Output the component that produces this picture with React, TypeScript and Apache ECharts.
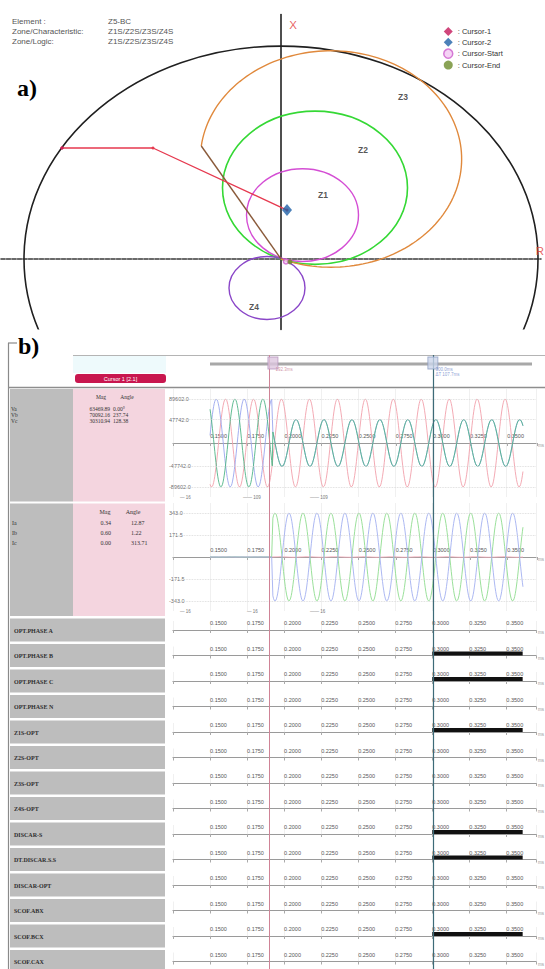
import React, { useEffect, useRef } from 'react';
import * as echarts from 'echarts';

// ================= Panel a) : R-X impedance plane (ohm) =================
const bigCircle = [0, 0, 25.7]; // centre R, centre X, radius
const zoneNames = ['Z1', 'Z2', 'Z3', 'Z4'];
const zoneCentreR = [2.15, 3.4, 5.0, -1.4];
const zoneCentreX = [5.3, 8.6, 12.07, -3.5];
const zoneRadius = [5.6, 9.25, 13.065, 3.8];
const z3BlinderAngleDeg = 120.3;
const zoneLabelR = [4.2, 8.2, 12.2, -2.7];
const zoneLabelX = [7.72, 13.16, 19.55, -5.8];
const locusR = [-21.9, -12.8, 0.6];
const locusX = [13.4, 13.4, 5.9];
const cursorNames = ['Cursor-1', 'Cursor-2', 'Cursor-Start', 'Cursor-End'];
const cursorPointR = [-21.9, 0.6, 0.5, 0.9];
const cursorPointX = [13.4, 5.9, -0.3, -0.35];
const elementInfoKeys = ['Element :', 'Zone/Characteristic:', 'Zone/Logic:'];
const elementInfoValues = ['Z5-BC', 'Z1S/Z2S/Z3S/Z4S', 'Z1S/Z2S/Z3S/Z4S'];

// ================= Panel b) : oscillography =================
const cursorTimes = [0.1923, 0.3];
const faultTime = 0.1923;
const freqHz = 53;
const sampleStart = 0.15;
const sampleEnd = 0.361;
const sampleStep = 0.0004;

const voltNames = ['Va', 'Vb', 'Vc'];
const voltMag = [63469.89, 70092.16, 30310.94];
const voltAng = [0.0, 237.74, 128.38];
const voltPrePeak = [89602, 89602, 89602];
const voltPreAngle = [-23, -143, 97];
const voltPostPeak = [89602, 47742, 47742];
const voltPostAngle = [-23, 150, 150];
const voltAxisLabels = [89602.0, 47742.0, -47742.0, -89602.0];

const currNames = ['Ia', 'Ib', 'Ic'];
const currMag = [0.34, 0.6, 0.0];
const currAng = [12.87, 1.22, 313.71];
const currPrePeak = [0.48, 0.85, 0.0];
const currPreAngle = [-10, -140, 100];
const currPostPeak = [2, 343, 343];
const currPostAngle = [0, 60, 240];
const currAxisLabels = [343.0, 171.5, -171.5, -343.0];

const digitalNames = ['OPT.PHASE A', 'OPT.PHASE B', 'OPT.PHASE C', 'OPT.PHASE N', 'Z1S-OPT', 'Z2S-OPT', 'Z3S-OPT', 'Z4S-OPT', 'DISCAR-S', 'DT.DISCAR.S.S', 'DISCAR-OPT', 'SCOF.ABX', 'SCOF.BCX', 'SCOF.CAX'];
const digitalOnFrom: (number | null)[] = [null, 0.3, 0.3, null, 0.3, null, null, null, 0.3, 0.3, null, null, 0.3, null];
const digitalOnTo = 0.361;

// ---------- layout ----------
const RX_LEFT = 1, RX_W = 540, RX_TOP = 14.6, RX_H = 314.8;
const T_MIN = 0.125, T_MAX = 0.37, PX_PER_S = 1485;
const PLOT_LEFT = 173, PLOT_W = (T_MAX - T_MIN) * PX_PER_S;
const ROW0 = 630, ROW_PITCH = 25.5;

const SANS = 'Liberation Sans';
const SERIF = 'Liberation Serif';

function wave(prePeak: number, preAng: number, postPeak: number, postAng: number) {
  const pts: number[][] = [];
  const n = Math.round((sampleEnd - sampleStart) / sampleStep);
  for (let i = 0; i <= n; i++) {
    const t = sampleStart + i * sampleStep;
    const post = t >= faultTime;
    const A = post ? postPeak : prePeak;
    const ph = ((post ? postAng : preAng) * Math.PI) / 180;
    pts.push([t, A * Math.sin(2 * Math.PI * freqHz * (t - faultTime) + ph)]);
  }
  return pts;
}

function txt(x: number, y: number, text: string, size: number, fill: string, extra: any = {}) {
  return {
    type: 'text', x, y, silent: true, z: 10,
    style: { text, fontSize: size, fill, fontFamily: extra.font || SANS, fontWeight: extra.weight || 'normal', align: extra.align || 'left', verticalAlign: 'middle' },
  };
}
function rect(x: number, y: number, w: number, h: number, fill: string, r = 0) {
  return { type: 'rect', silent: true, z: 1, shape: { x, y, width: w, height: h, r }, style: { fill } };
}
function hline(x1: number, y1: number, x2: number, y2: number, stroke: string, lw = 1) {
  return { type: 'line', silent: true, z: 2, shape: { x1, y1, x2, y2 }, style: { stroke, lineWidth: lw } };
}

const timeLabel = {
  show: true, inside: true, align: 'left', margin: 4, fontSize: 5.5, color: '#555', fontFamily: SANS,
  formatter: (v: number) => (v < 0.149 || v > 0.351 ? '' : v.toFixed(4)),
};

// time axis whose line sits at the bottom of its grid, labels just above it
function labelledTimeAxis(gi: number, withLine: boolean, withSplit: boolean) {
  return {
    type: 'value', gridIndex: gi, min: T_MIN, max: T_MAX, interval: 0.025,
    axisLine: { show: withLine, onZero: false, lineStyle: { color: '#9a9a9a', width: 1.2 } },
    axisTick: { show: true, length: 3, lineStyle: { color: '#aaa' } },
    axisLabel: timeLabel,
    splitLine: { show: withSplit, lineStyle: { color: '#ececec', width: 0.8 } },
    name: withLine ? 'ms' : '', nameLocation: 'end', nameGap: 2, nameTextStyle: { fontSize: 4.5, color: '#999', verticalAlign: 'top' },
  };
}

function buildOption() {
  const grid: any[] = [];
  const xAxis: any[] = [];
  const yAxis: any[] = [];
  const series: any[] = [];
  const hiddenY = (gi: number, min: number, max: number) => ({
    type: 'value', gridIndex: gi, min, max, axisLine: { show: false }, axisTick: { show: false }, axisLabel: { show: false }, splitLine: { show: false },
  });

  // ---------- grid 0 : R-X plane ----------
  grid.push({ left: RX_LEFT, top: RX_TOP, width: RX_W, height: RX_H });
  xAxis.push({
    type: 'value', gridIndex: 0, min: -28, max: 26,
    axisLine: { onZero: true, lineStyle: { color: '#3a3a3a', width: 1.6, type: [4, 1.5] } },
    axisTick: { show: false }, axisLabel: { show: false }, splitLine: { show: false },
  });
  yAxis.push({
    type: 'value', gridIndex: 0, min: -8.5, max: 29.5,
    axisLine: { onZero: true, lineStyle: { color: '#151515', width: 1.5 } },
    axisTick: { show: false }, axisLabel: { show: false }, splitLine: { show: false },
  });

  const fullCircles = [
    { c: bigCircle, color: '#202020', lw: 1.6 },
    { c: [zoneCentreR[0], zoneCentreX[0], zoneRadius[0]], color: '#d44ed4', lw: 1.4 },
    { c: [zoneCentreR[1], zoneCentreX[1], zoneRadius[1]], color: '#35d835', lw: 1.6 },
    { c: [zoneCentreR[3], zoneCentreX[3], zoneRadius[3]], color: '#8a46c8', lw: 1.4 },
  ];
  series.push({
    type: 'custom', name: 'circles', xAxisIndex: 0, yAxisIndex: 0, clip: true, silent: true,
    data: fullCircles.map((d) => d.c),
    renderItem: (params: any, api: any) => {
      const c = api.coord([api.value(0), api.value(1)]);
      const s = api.size([api.value(2), api.value(2)]);
      const cs = params.coordSys;
      const d = fullCircles[params.dataIndex];
      return {
        type: 'ellipse',
        shape: { cx: c[0], cy: c[1], rx: s[0], ry: s[1] },
        style: { fill: 'none', stroke: d.color, lineWidth: d.lw },
        clipPath: { type: 'rect', shape: { x: cs.x, y: cs.y, width: cs.width, height: cs.height } },
      };
    },
  });

  // Z3 : mho circle cut by the blinder line through the origin
  series.push({
    type: 'custom', name: 'Z3', xAxisIndex: 0, yAxisIndex: 0, clip: true, silent: true,
    data: [[zoneCentreR[2], zoneCentreX[2], zoneRadius[2], z3BlinderAngleDeg]],
    renderItem: (params: any, api: any) => {
      const cR = api.value(0), cX = api.value(1), r = api.value(2);
      const th = (api.value(3) * Math.PI) / 180;
      const ux = Math.cos(th), uy = Math.sin(th);
      const s = 2 * (cR * ux + cX * uy);
      const pR = s * ux, pX = s * uy;
      const a0 = Math.atan2(pX - cX, pR - cR);
      let a1 = Math.atan2(-cX, -cR);
      while (a1 > a0) a1 -= 2 * Math.PI;
      const pts: number[][] = [];
      const n = 140;
      for (let i = 0; i <= n; i++) {
        const a = a0 + ((a1 - a0) * i) / n;
        pts.push(api.coord([cR + r * Math.cos(a), cX + r * Math.sin(a)]));
      }
      const o = api.coord([0, 0]);
      const p = api.coord([pR, pX]);
      return {
        type: 'group',
        children: [
          { type: 'polyline', shape: { points: pts }, style: { fill: 'none', stroke: '#e0893c', lineWidth: 1.4 } },
          { type: 'line', shape: { x1: o[0], y1: o[1], x2: p[0], y2: p[1] }, style: { stroke: '#8a5a3a', lineWidth: 1.4 } },
        ],
      };
    },
  });

  // impedance locus
  series.push({
    type: 'line', name: 'locus', xAxisIndex: 0, yAxisIndex: 0, silent: true,
    data: locusR.map((r, i) => [r, locusX[i]]),
    lineStyle: { color: '#e6394f', width: 1.3 }, itemStyle: { color: '#e6394f' },
    symbol: 'circle', symbolSize: 3, showSymbol: true,
  });

  // cursors (legend)
  const cursorSymbols = ['diamond', 'diamond', 'circle', 'circle'];
  const cursorColors = ['#c4185a', '#1f62a8', '#cc5bcc', '#6d8c2c'];
  const cursorSizes = [4, [10, 12], 5, 5];
  const cursorItemStyles = [
    { color: cursorColors[0] },
    { color: cursorColors[1] },
    { color: '#f2c8f2', borderColor: cursorColors[2], borderWidth: 1.5 },
    { color: cursorColors[3] },
  ];
  cursorNames.forEach((nm, i) => {
    series.push({
      type: 'scatter', name: nm, xAxisIndex: 0, yAxisIndex: 0, silent: true,
      symbol: cursorSymbols[i], symbolSize: cursorSizes[i], itemStyle: cursorItemStyles[i],
      data: [[cursorPointR[i], cursorPointX[i]]], z: 4,
    });
  });

  // zone labels, axis letters
  series.push({
    type: 'scatter', name: 'zoneLabels', xAxisIndex: 0, yAxisIndex: 0, symbolSize: 0, silent: true, clip: false,
    data: zoneNames.map((n, i) => ({ value: [zoneLabelR[i], zoneLabelX[i]], name: n })),
    label: { show: true, position: 'inside', formatter: (p: any) => p.name, fontSize: 8.5, fontWeight: 'bold', color: '#2a2a2a', fontFamily: SANS },
  });
  series.push({
    type: 'scatter', name: 'axisLetters', xAxisIndex: 0, yAxisIndex: 0, symbolSize: 0, silent: true, clip: false,
    data: [{ value: [1.2, 28.25], name: 'X' }, { value: [25.9, 1.0], name: 'R' }],
    label: { show: true, position: 'inside', formatter: (p: any) => p.name, fontSize: 11.5, color: '#e23838', fontFamily: SANS },
  });

  // ---------- analog plots : voltages, currents ----------
  const analog = [
    { top: 389, half: 110000, labels: voltAxisLabels, names: voltNames, pre: voltPrePeak, preA: voltPreAngle, post: voltPostPeak, postA: voltPostAngle, colors: ['#f2a0ab', '#4fb487', '#9aa6ee'], order: [0, 2, 1] },
    { top: 503, half: 421, labels: currAxisLabels, names: currNames, pre: currPrePeak, preA: currPreAngle, post: currPostPeak, postA: currPostAngle, colors: ['#f2a7b6', '#8fdc8f', '#a3b0f0'], order: [0, 1, 2] },
  ];
  analog.forEach((a, k) => {
    const gi = grid.length;
    grid.push({ left: PLOT_LEFT, top: a.top, width: PLOT_W, height: 108 });
    xAxis.push({
      type: 'value', gridIndex: gi, min: T_MIN, max: T_MAX, interval: 0.025,
      axisLine: { onZero: true, lineStyle: { color: '#9a9a9a', width: 1.2 } },
      axisTick: { show: false }, axisLabel: { show: false },
      splitLine: { show: true, lineStyle: { color: '#ececec', width: 0.8 } },
      name: 'ms', nameLocation: 'end', nameGap: 2, nameTextStyle: { fontSize: 4.5, color: '#999', verticalAlign: 'top' },
    });
    yAxis.push(hiddenY(gi, -a.half, a.half));
    series.push({
      type: 'scatter', name: 'yl' + k, xAxisIndex: gi, yAxisIndex: gi, symbolSize: 0, silent: true, clip: false,
      data: a.labels.map((v) => [T_MIN, v]),
      label: { show: true, position: 'right', distance: 0, offset: [-4, 0], formatter: (p: any) => p.value[1].toFixed(1), fontSize: 5.5, color: '#444', fontFamily: SANS },
      markLine: { silent: true, symbol: 'none', label: { show: false }, lineStyle: { color: '#d4d4d4', type: 'dotted', width: 0.8 }, data: a.labels.map((v) => ({ yAxis: v })) },
    });
    a.order.forEach((i) => {
      series.push({
        type: 'line', name: a.names[i], xAxisIndex: gi, yAxisIndex: gi, silent: true, showSymbol: false, clip: true,
        data: wave(a.pre[i], a.preA[i], a.post[i], a.postA[i]),
        lineStyle: { color: a.colors[i], width: 0.9 },
      });
    });
    // upper half grid carrying the time labels above the zero line
    const li = grid.length;
    grid.push({ left: PLOT_LEFT, top: a.top, width: PLOT_W, height: 54 });
    xAxis.push(labelledTimeAxis(li, false, false));
    yAxis.push(hiddenY(li, 0, 1));
  });

  // ---------- digital channels ----------
  digitalNames.forEach((nm, i) => {
    const base = ROW0 + ROW_PITCH * i;
    const gi = grid.length;
    grid.push({ left: PLOT_LEFT, top: base - 9, width: PLOT_W, height: 9 });
    xAxis.push(labelledTimeAxis(gi, true, true));
    yAxis.push(hiddenY(gi, 0, 1));
    const on = digitalOnFrom[i];
    series.push({
      type: 'line', name: nm, xAxisIndex: gi, yAxisIndex: gi, silent: true, showSymbol: false,
      data: on === null ? [] : [[on, 0.22], [digitalOnTo, 0.22]],
      lineStyle: { color: '#111', width: 4 },
    });
  });

  // ---------- cursor overlay ----------
  const og = grid.length;
  grid.push({ left: PLOT_LEFT, top: 355, width: PLOT_W, height: 614 });
  xAxis.push({ type: 'value', gridIndex: og, min: T_MIN, max: T_MAX, show: false });
  yAxis.push({ type: 'value', gridIndex: og, min: 0, max: 614, inverse: true, show: false });
  series.push({
    type: 'scatter', name: 'cursors', xAxisIndex: og, yAxisIndex: og, silent: true, clip: false, z: 6,
    symbol: 'rect', symbolSize: [10, 12],
    data: [
      { value: [cursorTimes[0], 8], itemStyle: { color: '#dcc6df', borderColor: '#b594bd', borderWidth: 1 }, label: { formatter: '192.3ms', color: '#c77a92' } },
      { value: [cursorTimes[1], 8], itemStyle: { color: '#cbd5ea', borderColor: '#8d9ec2', borderWidth: 1 }, label: { formatter: '300.0ms\nΔT 107.7ms', color: '#6f86c8' } },
    ],
    label: { show: true, position: [8, 11], fontSize: 4.5, lineHeight: 5, fontFamily: SANS },
    markLine: {
      silent: true, symbol: 'none', label: { show: false },
      data: [
        { xAxis: cursorTimes[0], lineStyle: { color: '#cf8396', width: 1, type: 'solid' } },
        { xAxis: cursorTimes[1], lineStyle: { color: '#3d6b78', width: 1.2, type: 'solid' } },
      ],
    },
  });

  // ---------- graphics (layout / texts) ----------
  const g: any[] = [];
  elementInfoKeys.forEach((k, i) => {
    g.push(txt(12, 21 + i * 10, k, 8, '#555'));
    g.push(txt(108, 21 + i * 10, elementInfoValues[i], 8, '#555'));
  });
  g.push(txt(17, 88, 'a)', 24, '#000', { font: SERIF, weight: 'bold' }));

  // panel b frame
  g.push(hline(8.5, 343, 8.5, 969, '#8a8a8a', 1.2));
  g.push(hline(8, 343, 17, 343, '#8a8a8a', 1.2));
  g.push(txt(18, 346, 'b)', 24, '#000', { font: SERIF, weight: 'bold' }));
  g.push(rect(73, 356, 93, 17, '#eefafc'));
  g.push(hline(73, 355.5, 545, 355.5, '#b4b4b4', 1));
  g.push(hline(8, 387.5, 545, 387.5, '#8e8e8e', 1.3));
  g.push(rect(75, 374, 91, 9, '#c8174f', 3));
  g.push(txt(120.5, 378.5, 'Cursor 1 [2.1]', 5.5, '#fff', { align: 'center' }));
  g.push(hline(210, 364, 532, 364, '#a8a8a8', 3));

  // left info columns
  [389, 503.5].forEach((top) => {
    g.push(rect(10, top, 63, 112.5, '#bdbdbd'));
    g.push(rect(73, top, 92, 112.5, '#f4d5df'));
  });
  g.push(txt(101, 397, 'Mag', 5.5, '#333', { font: SERIF, align: 'center' }));
  g.push(txt(127, 397, 'Angle', 5.5, '#333', { font: SERIF, align: 'center' }));
  voltNames.forEach((n, i) => {
    const y = 409 + i * 6;
    g.push(txt(11, y, n, 5.5, '#333', { font: SERIF }));
    g.push(txt(110, y, voltMag[i].toFixed(2), 5.5, '#333', { font: SERIF, align: 'right' }));
    g.push(txt(113, y, voltAng[i].toFixed(2) + (i === 0 ? '°' : ''), 5.5, '#333', { font: SERIF }));
  });
  g.push(txt(105, 512, 'Mag', 6, '#333', { font: SERIF, align: 'center' }));
  g.push(txt(133, 512, 'Angle', 6, '#333', { font: SERIF, align: 'center' }));
  currNames.forEach((n, i) => {
    const y = 523 + i * 10;
    g.push(txt(12, y, n, 6, '#333', { font: SERIF }));
    g.push(txt(111, y, currMag[i].toFixed(2), 6, '#333', { font: SERIF, align: 'right' }));
    g.push(txt(131, y, currAng[i].toFixed(2), 6, '#333', { font: SERIF }));
  });
  [[180, '— 16'], [243, '—— 109'], [310, '—— 109']].forEach(([x, s]) => g.push(txt(x as number, 497, s as string, 4.5, '#777')));
  [[180, '— 16'], [247, '— 16'], [310, '—— 16']].forEach(([x, s]) => g.push(txt(x as number, 611, s as string, 4.5, '#777')));

  digitalNames.forEach((nm, i) => {
    const base = ROW0 + ROW_PITCH * i;
    g.push(rect(10, base - 11.5, 155, 23, '#bdbdbd'));
    g.push(txt(14, base + 0.5, nm, 6, '#2e2e2e', { font: SERIF, weight: 'bold' }));
  });

  return {
    animation: false,
    backgroundColor: '#ffffff',
    textStyle: { fontFamily: SANS },
    legend: {
      data: cursorNames.map((n, i) => ({ name: n, icon: i < 2 ? 'diamond' : 'circle', itemStyle: cursorItemStyles[i] })),
      orient: 'vertical', left: 443, top: 27, itemWidth: 9, itemHeight: 9, itemGap: 1.7,
      padding: 0, selectedMode: false, formatter: (n: string) => ': ' + n,
      textStyle: { fontSize: 7.5, color: '#333', fontFamily: SANS },
    },
    grid, xAxis, yAxis, series,
    graphic: { elements: g },
  };
}

export default function App() {
  const ref = useRef<HTMLDivElement>(null);
  useEffect(() => {
    const chart = echarts.init(ref.current as HTMLDivElement, null, { renderer: 'svg' });
    chart.setOption(buildOption() as any);
    return () => chart.dispose();
  }, []);
  return <div ref={ref} style={{ position: 'absolute', left: 0, top: 0, width: 545, height: 969, background: '#fff' }} />;
}
